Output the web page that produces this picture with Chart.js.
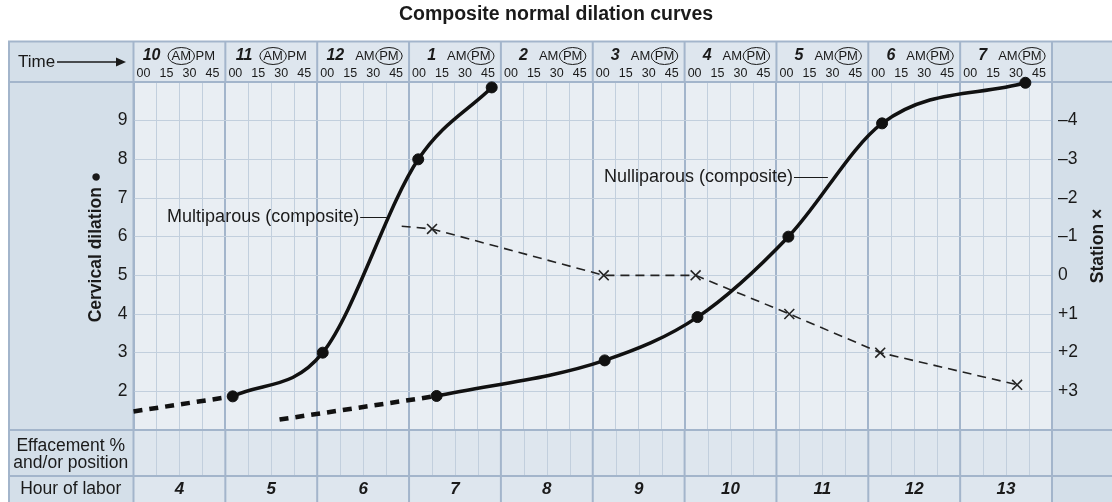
<!DOCTYPE html>
<html lang="en">
<head>
<meta charset="utf-8">
<title>Composite normal dilation curves</title>
<script src="https://cdn.jsdelivr.net/npm/chart.js@4.4.1/dist/chart.umd.min.js"></script>
<style>
    html, body { margin: 0; padding: 0; background: #fff; }
    #contenedor { width: 1112px; height: 502px; }
</style>
</head>
<body>
<div id="contenedor"><canvas id="grafica" width="1112" height="502"></canvas></div>
<script>
// Horas transcurridas desde las 10 AM y dilatación cervical (cm)
const horasMultiPrevia = [0, 1.08];
const dilatacionMultiPrevia = [1.48, 1.87];
const horasMulti = [1.08, 2.06, 3.1, 3.9];
const dilatacionMulti = [1.87, 3.0, 8.0, 9.86];

const horasNulliPrevia = [1.59, 3.3];
const dilatacionNulliPrevia = [1.27, 1.88];
const horasNulli = [3.3, 5.13, 6.14, 7.13, 8.15, 9.71];
const dilatacionNulli = [1.88, 2.8, 3.92, 6.0, 8.93, 9.98];

// Estación de la presentación (eje derecho)
const horasEstacion = [2.92, 3.25, 5.12, 6.12, 7.14, 8.13, 9.62];
const estacion = [-1.27, -1.2, 0, 0, 1, 2, 2.83];

// Encabezados y etiquetas
const horasReloj = ['10', '11', '12', '1', '2', '3', '4', '5', '6', '7'];
const meridiano = ['AM', 'AM', 'PM', 'PM', 'PM', 'PM', 'PM', 'PM', 'PM', 'PM'];
const minutos = ['00', '15', '30', '45'];
const horasParto = ['4', '5', '6', '7', '8', '9', '10', '11', '12', '13'];
const ticksDilatacion = [2, 3, 4, 5, 6, 7, 8, 9];
const ticksEstacion = [-4, -3, -2, -1, 0, 1, 2, 3];

const anotaciones = [
    { texto: 'Multiparous (composite)', hora: 2.457, valor: 6.52, finLinea: 2.763 },
    { texto: 'Nulliparous (composite)', hora: 7.18, valor: 7.55, finLinea: 7.56 }
];

const colorColumna = '#d4dfe9';
const colorCelda = '#dee6ee';
const colorCuadro = '#e9eef3';
const colorMarco = '#a3b5cb';
const colorRejilla = '#c2cfdd';
const colorTexto = '#1a1a1a';
const fuente = '"Liberation Sans", Arial, Helvetica, sans-serif';

const MARGEN_IZQ = 8;
const MARCO_ARRIBA = 41.5;
const FILA_HORA = 476;

function puntos(xs, ys) {
    return xs.map((h, i) => ({ x: h, y: ys[i] }));
}

function esHora(valor) {
    return Math.abs(valor - Math.round(valor)) < 1e-6;
}

// Dibuja el cuadro tipo partograma alrededor del área de la gráfica
const marcoTabla = {
    id: 'marcoTabla',
    beforeDraw(chart) {
        const { ctx, chartArea: a } = chart;
        ctx.save();
        ctx.fillStyle = colorColumna;
        ctx.fillRect(MARGEN_IZQ, MARCO_ARRIBA, chart.width - MARGEN_IZQ, chart.height - MARCO_ARRIBA);
        ctx.fillStyle = colorCelda;
        ctx.fillRect(a.left, MARCO_ARRIBA, a.right - a.left, a.top - MARCO_ARRIBA);
        ctx.fillRect(a.left, a.bottom, a.right - a.left, chart.height - a.bottom);
        ctx.fillStyle = colorCuadro;
        ctx.fillRect(a.left, a.top, a.right - a.left, a.bottom - a.top);

        // título
        ctx.fillStyle = colorTexto;
        ctx.font = 'bold 19.5px ' + fuente;
        ctx.textAlign = 'center';
        ctx.textBaseline = 'middle';
        ctx.fillText('Composite normal dilation curves', chart.width / 2, 15);
        ctx.restore();
    },
    beforeDatasetsDraw(chart) {
        const { ctx, chartArea: a, scales: { x } } = chart;
        const abajo = chart.height;
        ctx.save();

        // rejilla de cuartos de hora en la fila de borramiento
        ctx.strokeStyle = colorRejilla;
        ctx.lineWidth = 1;
        for (let q = 0; q <= 40; q++) {
            if (q % 4 === 0) continue;
            const px = Math.round(x.getPixelForValue(q / 4)) + 0.5;
            ctx.beginPath();
            ctx.moveTo(px, a.bottom);
            ctx.lineTo(px, FILA_HORA);
            ctx.stroke();
        }

        // líneas del marco
        ctx.strokeStyle = colorMarco;
        ctx.lineWidth = 2;
        ctx.beginPath();
        ctx.moveTo(MARGEN_IZQ, MARCO_ARRIBA);
        ctx.lineTo(chart.width, MARCO_ARRIBA);
        ctx.moveTo(MARGEN_IZQ + 1, MARCO_ARRIBA);
        ctx.lineTo(MARGEN_IZQ + 1, abajo);
        [a.top, a.bottom, FILA_HORA].forEach(y => {
            ctx.moveTo(MARGEN_IZQ, y);
            ctx.lineTo(chart.width, y);
        });
        [a.left, a.right].forEach(px => {
            ctx.moveTo(px, MARCO_ARRIBA);
            ctx.lineTo(px, abajo);
        });
        for (let h = 1; h < 10; h++) {
            const px = x.getPixelForValue(h);
            ctx.moveTo(px, MARCO_ARRIBA);
            ctx.lineTo(px, a.top);
            ctx.moveTo(px, a.bottom);
            ctx.lineTo(px, abajo);
        }
        ctx.stroke();

        ctx.fillStyle = colorTexto;
        ctx.strokeStyle = colorTexto;
        ctx.textBaseline = 'middle';

        // encabezado de hora
        horasReloj.forEach((hora, i) => {
            const x0 = x.getPixelForValue(i);
            ctx.font = 'italic bold 16px ' + fuente;
            ctx.textAlign = 'right';
            ctx.fillText(hora, x0 + 27, 56);

            ctx.font = '13px ' + fuente;
            ctx.textAlign = 'left';
            [['AM', x0 + 38], ['PM', x0 + 62]].forEach(([txt, px]) => {
                ctx.fillText(txt, px, 56);
                if (txt === meridiano[i]) {
                    const w = ctx.measureText(txt).width;
                    ctx.lineWidth = 1;
                    ctx.beginPath();
                    ctx.ellipse(px + w / 2, 56, w / 2 + 3.5, 8.5, 0, 0, Math.PI * 2);
                    ctx.stroke();
                }
            });

            ctx.font = '12.5px ' + fuente;
            ctx.textAlign = 'center';
            minutos.forEach((m, q) => {
                ctx.fillText(m, x.getPixelForValue(i + q / 4) + 10, 73.5);
            });
        });

        // "Time →"
        ctx.font = '17px ' + fuente;
        ctx.textAlign = 'left';
        ctx.fillText('Time', 18, 62);
        ctx.lineWidth = 1.5;
        ctx.beginPath();
        ctx.moveTo(57, 62);
        ctx.lineTo(118, 62);
        ctx.stroke();
        ctx.beginPath();
        ctx.moveTo(126, 62);
        ctx.lineTo(116, 57.5);
        ctx.lineTo(116, 66.5);
        ctx.closePath();
        ctx.fill();

        // títulos de los ejes
        ctx.font = 'bold 17.5px ' + fuente;
        ctx.textAlign = 'center';
        ctx.save();
        ctx.translate(a.left - 37, a.top + 165);
        ctx.rotate(-Math.PI / 2);
        ctx.fillText('Cervical dilation \u25CF', 0, 0);
        ctx.restore();
        ctx.save();
        ctx.translate(a.right + 46, a.top + 164);
        ctx.rotate(-Math.PI / 2);
        ctx.fillText('Station \u00D7', 0, 0);
        ctx.restore();

        // filas inferiores
        const centroIzq = (MARGEN_IZQ + a.left) / 2;
        ctx.font = '17.5px ' + fuente;
        ctx.fillText('Effacement %', centroIzq, 446);
        ctx.fillText('and/or position', centroIzq, 463);
        ctx.fillText('Hour of labor', centroIzq, 489);
        ctx.font = 'italic bold 17px ' + fuente;
        horasParto.forEach((h, i) => {
            ctx.fillText(h, x.getPixelForValue(i + 0.5), 489);
        });
        ctx.restore();
    },
    afterDatasetsDraw(chart) {
        const { ctx, scales: { x, y } } = chart;
        ctx.save();
        ctx.fillStyle = colorTexto;
        ctx.strokeStyle = colorTexto;
        ctx.font = '18px ' + fuente;
        ctx.textAlign = 'right';
        ctx.textBaseline = 'middle';
        ctx.lineWidth = 1;
        anotaciones.forEach(n => {
            const py = Math.round(y.getPixelForValue(n.valor)) + 0.5;
            const px = x.getPixelForValue(n.hora);
            ctx.fillText(n.texto, px, py);
            ctx.beginPath();
            ctx.moveTo(px + 1, py);
            ctx.lineTo(x.getPixelForValue(n.finLinea), py);
            ctx.stroke();
        });
        ctx.restore();
    }
};

const fuenteTicks = { family: fuente, size: 17.5 };

const estiloPrevio = {
    borderColor: '#111',
    borderWidth: 4.5,
    borderDash: [9, 7],
    pointRadius: 0,
    tension: 0,
    clip: false,
    yAxisID: 'y'
};

const estiloCurva = {
    borderColor: '#111',
    borderWidth: 3.5,
    cubicInterpolationMode: 'monotone',
    pointRadius: 5.5,
    pointBackgroundColor: '#111',
    pointBorderColor: '#111',
    pointBorderWidth: 1,
    clip: false,
    yAxisID: 'y'
};

new Chart(document.getElementById('grafica'), {
    type: 'line',
    data: {
        datasets: [
            { ...estiloPrevio, data: puntos(horasMultiPrevia, dilatacionMultiPrevia) },
            { ...estiloCurva, label: 'Multiparous (composite)', data: puntos(horasMulti, dilatacionMulti) },
            { ...estiloPrevio, data: puntos(horasNulliPrevia, dilatacionNulliPrevia) },
            { ...estiloCurva, label: 'Nulliparous (composite)', data: puntos(horasNulli, dilatacionNulli) },
            {
                label: 'Station',
                data: puntos(horasEstacion, estacion),
                yAxisID: 'y2',
                borderColor: '#222',
                borderWidth: 1.6,
                borderDash: [9, 6],
                tension: 0,
                pointStyle: 'crossRot',
                pointRadius: ctx => ctx.dataIndex === 0 ? 0 : 7,
                pointBorderColor: '#222',
                pointBorderWidth: 1.6,
                clip: false
            }
        ]
    },
    options: {
        responsive: false,
        animation: false,
        devicePixelRatio: 1,
        layout: { padding: { left: MARGEN_IZQ, top: 82, right: 0, bottom: 72 } },
        plugins: {
            legend: { display: false },
            tooltip: { enabled: false }
        },
        scales: {
            x: {
                type: 'linear',
                min: 0,
                max: 10,
                border: { display: false },
                ticks: { display: false, stepSize: 0.25 },
                grid: {
                    drawTicks: false,
                    color: ctx => esHora(ctx.tick.value) ? colorMarco : colorRejilla,
                    lineWidth: ctx => esHora(ctx.tick.value) ? 2 : 1
                },
                afterFit(escala) { escala.height = 0; }
            },
            y: {
                min: 1,
                max: 10,
                border: { display: false },
                ticks: {
                    stepSize: 1,
                    padding: 6,
                    color: colorTexto,
                    font: fuenteTicks,
                    callback: v => ticksDilatacion.includes(v) ? String(v) : ''
                },
                grid: { drawTicks: false, color: colorRejilla },
                afterFit(escala) { escala.width = 125.5; }
            },
            y2: {
                position: 'right',
                min: -5,
                max: 4,
                reverse: true,
                border: { display: false },
                ticks: {
                    stepSize: 1,
                    padding: 6,
                    color: colorTexto,
                    font: fuenteTicks,
                    callback: v => {
                        if (!ticksEstacion.includes(v)) return '';
                        if (v < 0) return '\u2013' + (-v);
                        return v > 0 ? '+' + v : '0';
                    }
                },
                grid: { drawOnChartArea: false, drawTicks: false },
                afterFit(escala) { escala.width = 60; }
            }
        }
    },
    plugins: [marcoTabla]
});
</script>
</body>
</html>
